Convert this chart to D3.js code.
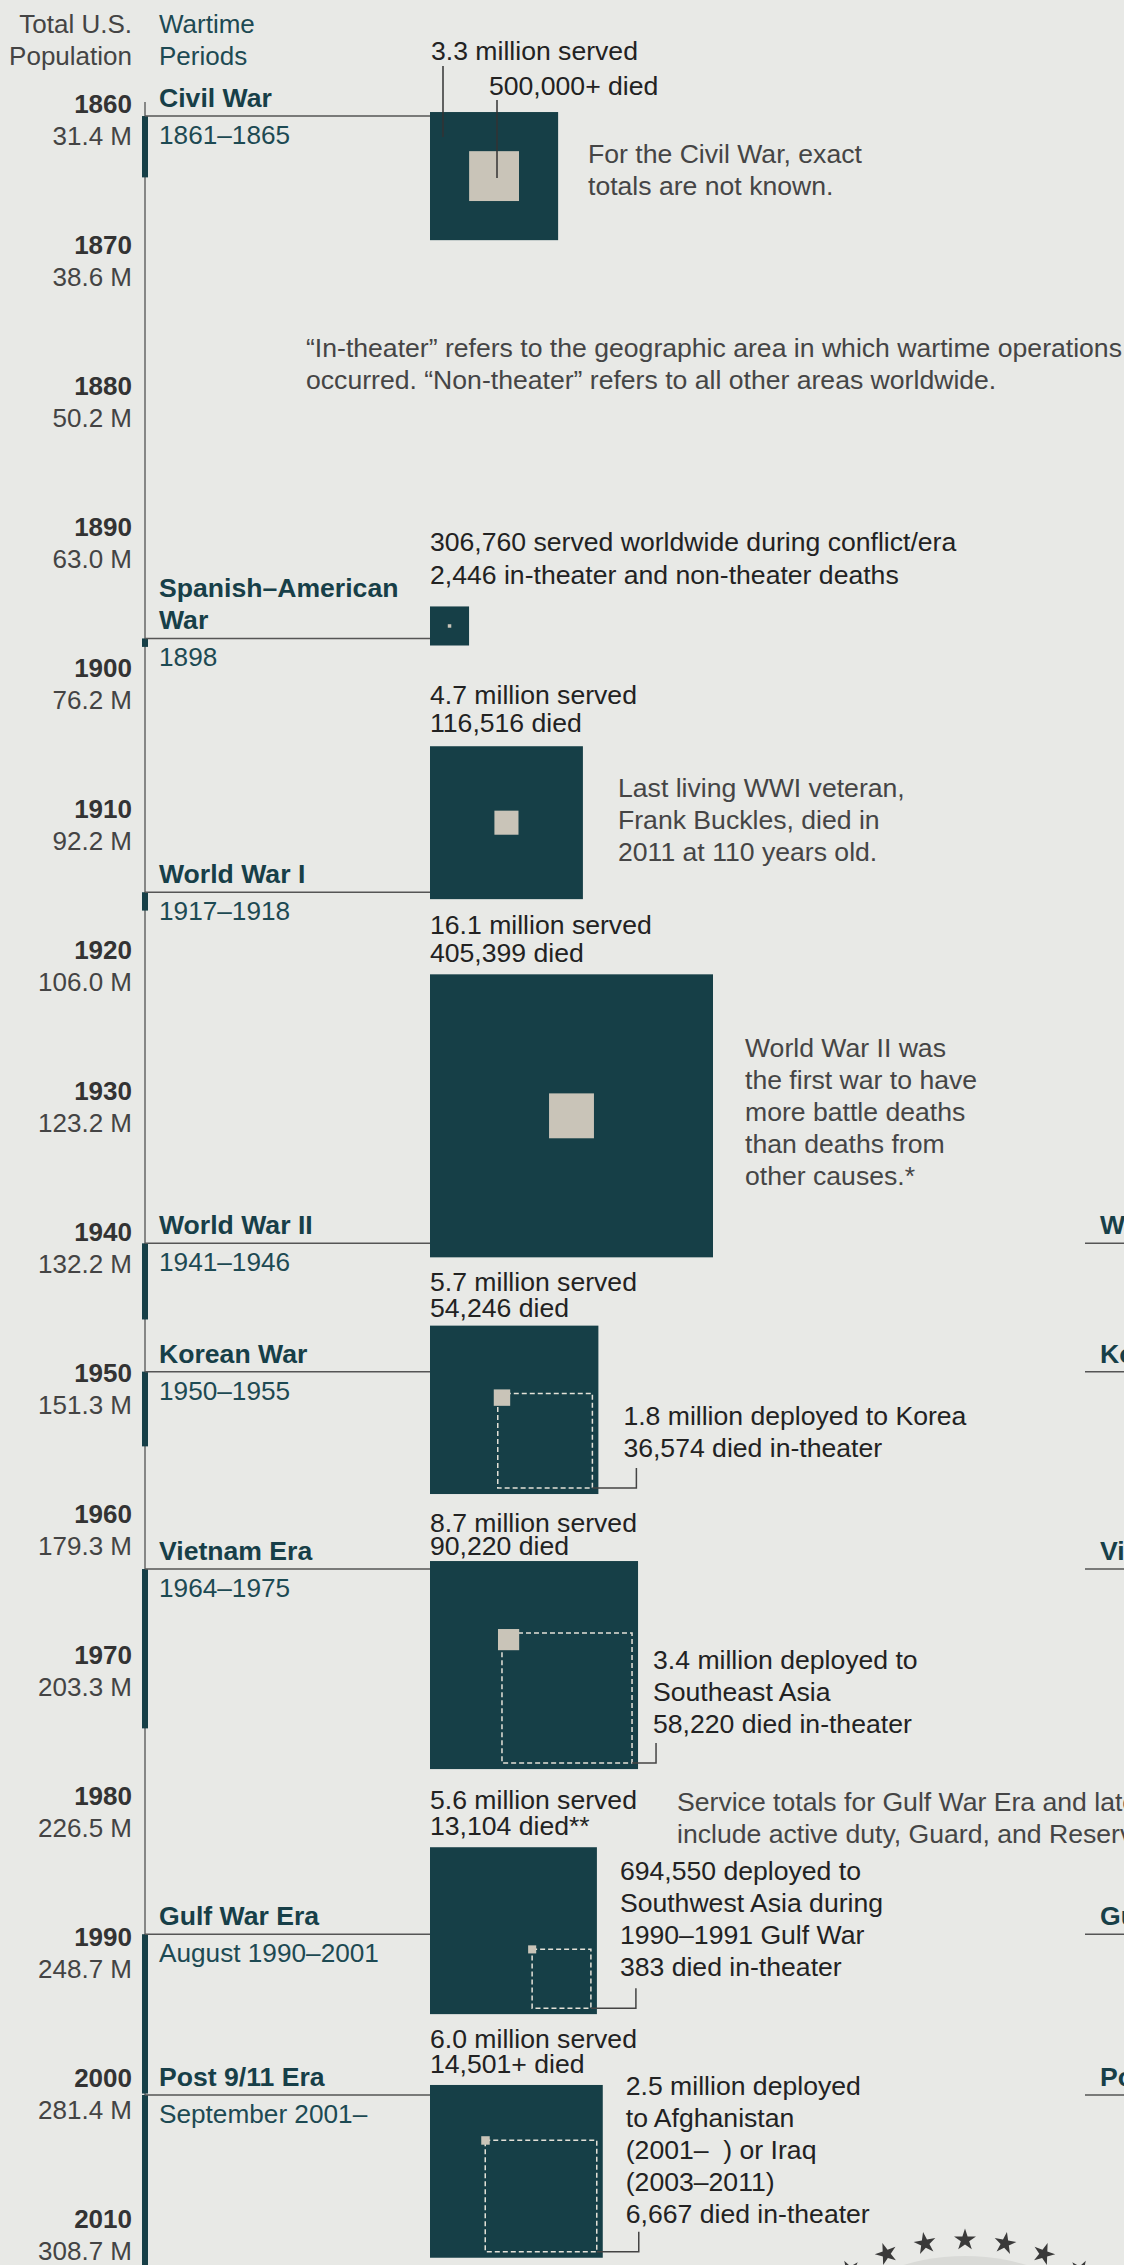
<!DOCTYPE html>
<meta charset="utf-8">
<style>
    body { margin: 0; background: #e8e9e6; }
    svg { display: block; font-family: "Liberation Sans", Arial, Helvetica, sans-serif; }
    .year { font-weight: bold; fill: #333; font-size: 26px; text-anchor: end; }
    .pop { fill: #444; font-size: 26px; text-anchor: end; }
    .head-l { fill: #444; font-size: 26px; text-anchor: end; }
    .head-r { fill: #1d4a53; font-size: 26px; }
    .name { font-weight: bold; fill: #173f48; font-size: 26.6px; }
    .dates { fill: #1d4a53; font-size: 26.2px; }
    .lbl { fill: #222; font-size: 26.6px; white-space: pre; }
    .note { fill: #454545; font-size: 26.6px; }
</style>
<svg width="1124" height="2265"></svg>
<script src="https://d3js.org/d3.v7.min.js"></script>
<script>
    // census years and total population (millions)
    var years = [1860, 1870, 1880, 1890, 1900, 1910, 1920, 1930, 1940, 1950, 1960, 1970, 1980, 1990, 2000, 2010];
    var population = [31.4, 38.6, 50.2, 63.0, 76.2, 92.2, 106.0, 123.2, 132.2, 151.3, 179.3, 203.3, 226.5, 248.7, 281.4, 308.7];

    // wartime periods
    var wars = ['Civil War', 'Spanish–American\nWar', 'World War I', 'World War II', 'Korean War', 'Vietnam Era', 'Gulf War Era', 'Post 9/11 Era'];
    var warDates = ['1861–1865', '1898', '1917–1918', '1941–1946', '1950–1955', '1964–1975', 'August 1990–2001', 'September 2001–'];
    var warStart = [1861.35, 1898.4, 1916.4, 1941.3, 1950.4, 1964.4, 1990.3, 2001.7];
    var warEnd = [1865.7, 1899.0, 1917.7, 1946.7, 1955.7, 1975.7, 2001.6, 2016];

    // millions
    var served = [3.3, 0.30676, 4.7, 16.1, 5.7, 8.7, 5.6, 6.0];
    var died = [0.5, 0.002446, 0.116516, 0.405399, 0.054246, 0.09022, 0.013104, 0.014501];
    var deployed = [null, null, null, null, 1.8, 3.4, 0.69455, 2.5];

    var servedText = ['3.3 million served', '306,760 served worldwide during conflict/era', '4.7 million served', '16.1 million served',
        '5.7 million served', '8.7 million served', '5.6 million served', '6.0 million served'];
    var diedText = ['500,000+ died', '2,446 in-theater and non-theater deaths', '116,516 died', '405,399 died',
        '54,246 died', '90,220 died', '13,104 died**', '14,501+ died'];
    var deployedText = [null, null, null, null,
        ['1.8 million deployed to Korea', '36,574 died in-theater'],
        ['3.4 million deployed to', 'Southeast Asia', '58,220 died in-theater'],
        ['694,550 deployed to', 'Southwest Asia during', '1990–1991 Gulf War', '383 died in-theater'],
        ['2.5 million deployed', 'to Afghanistan', '(2001–\u00a0\u00a0) or Iraq', '(2003–2011)', '6,667 died in-theater']];

    var notes = [
        ['For the Civil War, exact', 'totals are not known.'],
        ['“In-theater” refers to the geographic area in which wartime operations', 'occurred. “Non-theater” refers to all other areas worldwide.'],
        ['Last living WWI veteran,', 'Frank Buckles, died in', '2011 at 110 years old.'],
        ['World War II was', 'the first war to have', 'more battle deaths', 'than deaths from', 'other causes.*'],
        ['Service totals for Gulf War Era and later', 'include active duty, Guard, and Reserve']
    ];

    // layout (pixels)
    var noteX = [588, 306, 618, 745, 677], noteY = [163, 357, 797, 1057, 1811];
    var boxTop = [-4, -32, -146, -269, -46, -8, -87, -10]; // box top relative to leader line
    var lblDrop = [0, 22, 14, 12, 9, 6, 12, 12], lblGap = [0, 33, 28, 28, 26, 23, 26, 25];
    var depDx = [0, 0, 0, 0, 25, 15, 23, 23], depDy = [0, 0, 0, 0, 99, 108, 33, 10];
    var brDx = [0, 0, 0, 0, 38, 18, 39, 36];

    var svg = d3.select('svg');
    var axisX = 145, boxX = 430;

    var y = d3.scaleLinear().domain([1860, 2010]).range([97, 2212]);
    var side = d3.scaleSqrt().domain([0, 16.1]).range([0, 283]);

    svg.append('rect').attr('width', 1124).attr('height', 2265).attr('fill', '#e8e9e6');

    // headers
    svg.append('text').attr('class', 'head-l').attr('x', 132).attr('y', 33).text('Total U.S.');
    svg.append('text').attr('class', 'head-l').attr('x', 132).attr('y', 65).text('Population');
    svg.append('text').attr('class', 'head-r').attr('x', 159).attr('y', 33).text('Wartime');
    svg.append('text').attr('class', 'head-r').attr('x', 159).attr('y', 65).text('Periods');

    // year axis
    var ax = svg.append('g');
    ax.append('line').attr('x1', axisX).attr('x2', axisX).attr('y1', y(1860.35)).attr('y2', 2265)
        .attr('stroke', '#666').attr('stroke-width', 1.5);
    ax.selectAll('.year').data(years).enter().append('text')
        .attr('class', 'year').attr('x', 132).attr('y', d => y(d) + 16).text(d => d);
    ax.selectAll('.pop').data(population).enter().append('text')
        .attr('class', 'pop').attr('x', 132).attr('y', (d, i) => y(years[i]) + 48)
        .text(d => d3.format('.1f')(d) + ' M');

    // period bars on axis
    ax.selectAll('.period').data(wars).enter().append('rect')
        .attr('x', axisX - 3).attr('width', 6)
        .attr('y', (d, i) => y(warStart[i]))
        .attr('height', (d, i) => y(warEnd[i]) - y(warStart[i]))
        .attr('fill', '#163f47');

    var g = svg.selectAll('.war').data(wars).enter().append('g');

    // leader lines from axis to box
    g.append('line').attr('x1', axisX).attr('x2', boxX)
        .attr('y1', (d, i) => y(warStart[i])).attr('y2', (d, i) => y(warStart[i]))
        .attr('stroke', '#555').attr('stroke-width', 1.5);

    // period names and dates
    g.each(function (d, i) {
        var el = d3.select(this), ly = y(warStart[i]);
        var parts = d.split('\n');
        parts.forEach(function (p, k) {
            el.append('text').attr('class', 'name').attr('x', 159)
                .attr('y', ly - 9 - (parts.length - 1 - k) * 32).text(p);
        });
        el.append('text').attr('class', 'dates').attr('x', 159).attr('y', ly + 28).text(warDates[i]);
    });

    // squares
    g.each(function (d, i) {
        var el = d3.select(this);
        var s = side(served[i]), top = y(warStart[i]) + boxTop[i];
        el.append('rect').attr('x', boxX).attr('y', top).attr('width', s).attr('height', s).attr('fill', '#163f47');
        var ds = side(died[i]);
        if (deployed[i] == null) {
            el.append('rect').attr('x', boxX + (s - ds) / 2).attr('y', top + (s - ds) / 2)
                .attr('width', ds).attr('height', ds).attr('fill', '#c9c4b8');
        } else {
            var ps = side(deployed[i]);
            var rx = boxX + s - 6, by = top + s - 6;
            el.append('rect').attr('x', rx - ps).attr('y', by - ps).attr('width', ps).attr('height', ps)
                .attr('fill', 'none').attr('stroke', '#e4e1d8').attr('stroke-width', 1.5).attr('stroke-dasharray', '5,3');
            el.append('rect').attr('x', rx - ps - 4).attr('y', by - ps - 4).attr('width', ds).attr('height', ds)
                .attr('fill', '#c9c4b8');
            var bx = boxX + s + brDx[i];
            el.append('path').attr('d', 'M' + rx + ',' + by + 'H' + bx + 'V' + (by - 20))
                .attr('fill', 'none').attr('stroke', '#444').attr('stroke-width', 1.5);
            deployedText[i].forEach(function (t, k) {
                el.append('text').attr('class', 'lbl').attr('x', boxX + s + depDx[i])
                    .attr('y', top + depDy[i] + k * 32).text(t);
            });
        }
        if (i > 0) {
            var l2 = top - lblDrop[i];
            el.append('text').attr('class', 'lbl').attr('x', boxX).attr('y', l2 - lblGap[i]).text(servedText[i]);
            el.append('text').attr('class', 'lbl').attr('x', boxX).attr('y', l2).text(diedText[i]);
        } else {
            // Civil War labels with pointer lines
            el.append('text').attr('class', 'lbl').attr('x', 431).attr('y', 60).text(servedText[i]);
            el.append('text').attr('class', 'lbl').attr('x', 489).attr('y', 95).text(diedText[i]);
            el.append('line').attr('x1', 443).attr('x2', 443).attr('y1', 66).attr('y2', 137)
                .attr('stroke', '#333').attr('stroke-width', 1.5);
            el.append('line').attr('x1', 497).attr('x2', 497).attr('y1', 100).attr('y2', top + s / 2 + 2)
                .attr('stroke', '#333').attr('stroke-width', 1.5);
        }
    });

    // notes
    notes.forEach(function (lines, n) {
        lines.forEach(function (t, k) {
            svg.append('text').attr('class', 'note').attr('x', noteX[n]).attr('y', noteY[n] + k * 32).text(t);
        });
    });

    // start of the next panel, cut at the edge
    var right = svg.selectAll('.rp').data(wars.slice(3)).enter().append('g');
    right.append('line').attr('x1', 1085).attr('x2', 1124)
        .attr('y1', (d, i) => y(warStart[i + 3])).attr('y2', (d, i) => y(warStart[i + 3]))
        .attr('stroke', '#555').attr('stroke-width', 1.5);
    right.append('text').attr('class', 'name').attr('x', 1100)
        .attr('y', (d, i) => y(warStart[i + 3]) - 9).text(d => d);

    // seal with stars at the bottom
    var cx = 965, cy = 2470;
    svg.append('circle').attr('cx', cx).attr('cy', cy).attr('r', 214).attr('fill', '#d9dad7');
    d3.range(-30, 31, 10).forEach(function (a) {
        var r = a * Math.PI / 180;
        svg.append('path').attr('d', d3.symbol(d3.symbolStar, 150)())
            .attr('transform', 'translate(' + (cx + 230 * Math.sin(r)) + ',' + (cy - 230 * Math.cos(r)) + ') rotate(' + a + ')')
            .attr('fill', '#3a3a3a');
    });
</script>
